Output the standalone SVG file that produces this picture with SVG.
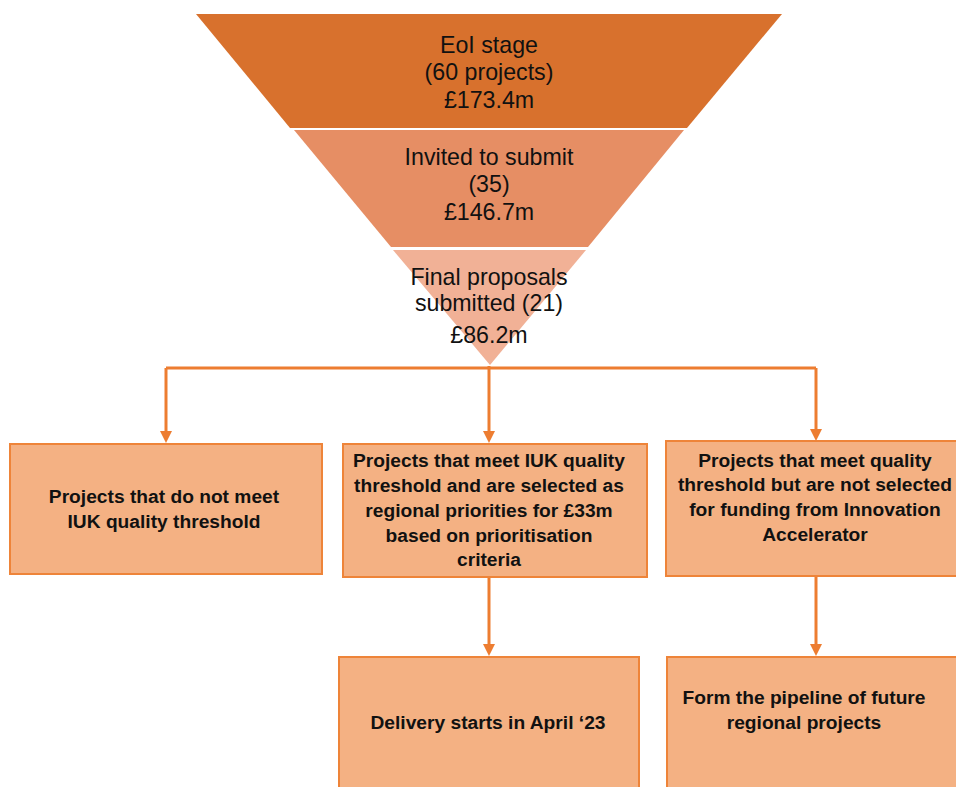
<svg xmlns="http://www.w3.org/2000/svg" width="956" height="787" viewBox="0 0 956 787">
<style>
.funnel text{font-family:"Liberation Sans",Arial,sans-serif;font-size:23.2px;fill:#111;text-anchor:middle}
.box rect{fill:#F4B183;stroke:#EE8439;stroke-width:2}
.box text{font-family:"Liberation Sans",Arial,sans-serif;font-size:19.2px;font-weight:bold;fill:#111;text-anchor:middle}
.conn path{fill:none;stroke:#ED7D31;stroke-width:3}
</style>
<defs>
<marker id="arr" viewBox="0 0 10 10" refX="5.8" refY="5" markerWidth="12" markerHeight="13" markerUnits="userSpaceOnUse" orient="auto">
<path d="M0,0 L10,5 L0,10 z" fill="#ED7D31"/>
</marker>
</defs>
<rect width="956" height="787" fill="#fff"/>
<g id="stage1" class="funnel">
<polygon points="196,14 782,14 687,128 290,128" fill="#D8712D"/>
<text x="489" y="53">EoI stage</text>
<text x="489" y="80">(60 projects)</text>
<text x="489" y="108">£173.4m</text>
</g>
<g id="stage2" class="funnel">
<polygon points="294,130 684,130 588,247 391,247" fill="#E68E64"/>
<text x="489" y="165">Invited to submit</text>
<text x="489" y="192">(35)</text>
<text x="489" y="220">£146.7m</text>
</g>
<g id="stage3" class="funnel">
<polygon points="393,250 586,250 490,365" fill="#F1B196"/>
<text x="489" y="285">Final proposals</text>
<text x="489" y="311">submitted (21)</text>
<text x="489" y="343">£86.2m</text>
</g>
<g id="connectors" class="conn">
<path d="M166,368 H816"/>
<path d="M166,368 V438" marker-end="url(#arr)"/>
<path d="M489,366 V438" marker-end="url(#arr)"/>
<path d="M816,368 V436" marker-end="url(#arr)"/>
<path d="M489,578 V651" marker-end="url(#arr)"/>
<path d="M816,577 V651" marker-end="url(#arr)"/>
</g>
<g id="box1" class="box">
<rect x="10" y="444" width="312" height="130"/>
<text x="164" y="503">Projects that do not meet</text>
<text x="164" y="528">IUK quality threshold</text>
</g>
<g id="box2" class="box">
<rect x="343" y="444" width="304" height="133"/>
<text x="489" y="467">Projects that meet IUK quality</text>
<text x="489" y="492">threshold and are selected as</text>
<text x="489" y="517">regional priorities for £33m</text>
<text x="489" y="542">based on prioritisation</text>
<text x="489" y="566">criteria</text>
</g>
<g id="box3" class="box">
<rect x="666" y="441" width="300" height="135"/>
<text x="815" y="467">Projects that meet quality</text>
<text x="815" y="491">threshold but are not selected</text>
<text x="815" y="516">for funding from Innovation</text>
<text x="815" y="541">Accelerator</text>
</g>
<g id="box4" class="box">
<rect x="339" y="657" width="300" height="140"/>
<text x="488" y="729">Delivery starts in April ‘23</text>
</g>
<g id="box5" class="box">
<rect x="667" y="657" width="300" height="140"/>
<text x="804" y="704">Form the pipeline of future</text>
<text x="804" y="729">regional projects</text>
</g>
</svg>
